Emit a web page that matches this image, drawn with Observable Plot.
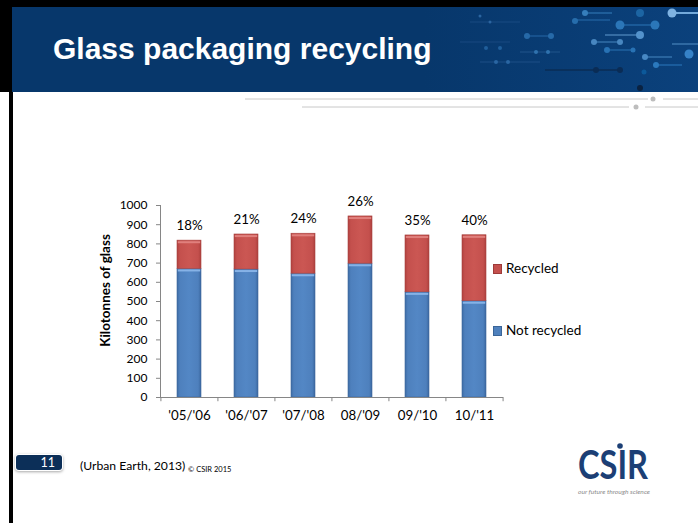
<!DOCTYPE html>
<html>
<head>
<meta charset="utf-8">
<script src="https://cdn.jsdelivr.net/npm/d3@7"></script>
<script src="https://cdn.jsdelivr.net/npm/@observablehq/plot@0.6"></script>
<style>
  html, body { margin: 0; padding: 0; background: #fff; }
  #slide { position: relative; width: 698px; height: 523px; overflow: hidden; background: #fff; font-family: Lato, "Open Sans", sans-serif; }
  #deco { position: absolute; left: 0; top: 0; }
  #title { position: absolute; left: 53px; top: 32px; font-family: "Liberation Sans", Arial, sans-serif; font-weight: bold; font-size: 30px; color: #fff; white-space: nowrap; }
  #chart { position: absolute; left: 0; top: 180px; }
  .leg { position: absolute; left: 493px; font-size: 13.5px; color: #000; white-space: nowrap; line-height: 1; }
  .leg i { display: inline-block; width: 7px; height: 8px; margin-right: 4px; vertical-align: -1px; }
  #pageno { position: absolute; left: 16px; top: 455px; width: 46px; height: 15px; background: #0c2f58; border-radius: 3px; box-shadow: 0 0 0 1px #fff, 0 1px 3px 1px rgba(0,0,0,0.35); color: #fff; font-size: 12.5px; line-height: 15px; text-align: right; box-sizing: border-box; padding-right: 7px; }
  #source { position: absolute; left: 80px; top: 458px; font-size: 12.2px; color: #000; white-space: nowrap; }
  #copy { position: absolute; left: 188px; top: 465px; font-size: 7.5px; color: #000; white-space: nowrap; }
</style>
</head>
<body>
<div id="slide">
  <svg width="0" height="0" style="position:absolute">
    <defs>
      <linearGradient id="gBlue" x1="0" x2="1" y1="0" y2="0">
        <stop offset="0" stop-color="#3d6ca5"/>
        <stop offset="0.12" stop-color="#4e80bd"/>
        <stop offset="0.5" stop-color="#5387c5"/>
        <stop offset="0.88" stop-color="#4e80bd"/>
        <stop offset="1" stop-color="#3b68a0"/>
      </linearGradient>
      <linearGradient id="gRed" x1="0" x2="1" y1="0" y2="0">
        <stop offset="0" stop-color="#b0413f"/>
        <stop offset="0.12" stop-color="#c4504d"/>
        <stop offset="0.5" stop-color="#cb5753"/>
        <stop offset="0.88" stop-color="#c4504d"/>
        <stop offset="1" stop-color="#ad403d"/>
      </linearGradient>
      <linearGradient id="gHead" x1="0" x2="1" y1="0" y2="0">
        <stop offset="0" stop-color="#07376b"/>
        <stop offset="0.6" stop-color="#07376b"/>
        <stop offset="1" stop-color="#0b417c"/>
      </linearGradient>
    </defs>
  </svg>
  <svg id="deco" width="698" height="523">
    <rect x="0" y="0" width="698" height="7" fill="#000"/>
    <rect x="0" y="0" width="12" height="92" fill="#000"/>
    <rect x="9" y="92" width="4" height="431" fill="#000"/>
    <rect x="12" y="7" width="686" height="85" fill="url(#gHead)"/>
    <g opacity="0.9">
      <line x1="585" y1="13" x2="612" y2="13" stroke="#3b86c4" stroke-width="1"/>
      <circle cx="585" cy="13" r="3" fill="#3b86c4"/>
      <circle cx="640" cy="13" r="4" fill="#1f6aa8"/>
      <line x1="672" y1="13" x2="698" y2="13" stroke="#7fb6e6" stroke-width="2"/>
      <circle cx="672" cy="13" r="4.5" fill="#8cc0ee"/>
      <line x1="575" y1="20" x2="610" y2="20" stroke="#2a73b3"/>
      <circle cx="575" cy="21" r="3" fill="#2a73b3"/>
      <line x1="620" y1="25" x2="655" y2="25" stroke="#2f7dc0"/>
      <circle cx="620" cy="25" r="4.5" fill="#2f7dc0"/>
      <circle cx="655" cy="25" r="4.5" fill="#2f7dc0"/>
      <line x1="527" y1="36" x2="550" y2="36" stroke="#2a6fae"/>
      <circle cx="527" cy="36" r="3" fill="#2a6fae"/>
      <circle cx="551" cy="36" r="3" fill="#2a6fae"/>
      <line x1="605" y1="35" x2="640" y2="35" stroke="#6aa6da"/>
      <circle cx="640" cy="35" r="4" fill="#5c9bd4"/>
      <line x1="594" y1="42" x2="620" y2="42" stroke="#4f8fc9"/>
      <circle cx="594" cy="42" r="3" fill="#4f8fc9"/>
      <circle cx="620" cy="42" r="3" fill="#4f8fc9"/>
      <line x1="672" y1="44" x2="698" y2="44" stroke="#5b9ad1"/>
      <line x1="607" y1="50" x2="632" y2="50" stroke="#2c78bb"/>
      <circle cx="607" cy="50" r="3" fill="#2c78bb"/>
      <circle cx="633" cy="50" r="2.5" fill="#2c78bb"/>
      <circle cx="689" cy="54" r="4.5" fill="#3b8ad0"/>
      <line x1="645" y1="57" x2="672" y2="57" stroke="#4f90cc"/>
      <circle cx="645" cy="57" r="3" fill="#4f90cc"/>
      <circle cx="656" cy="65" r="3" fill="#2f80c6"/>
      <line x1="656" y1="65" x2="682" y2="65" stroke="#2f80c6"/>
      <line x1="520" y1="52" x2="560" y2="52" stroke="#24588f"/>
      <circle cx="536" cy="52" r="2" fill="#3479b5"/>
      <circle cx="548" cy="52" r="2" fill="#3479b5"/>
      <line x1="545" y1="70" x2="620" y2="70" stroke="#0b2b52" stroke-width="1.5"/>
      <circle cx="596" cy="70" r="3" fill="#0b2b52"/>
      <circle cx="620" cy="70" r="3" fill="#0b2b52"/>
      <circle cx="644" cy="72" r="2.5" fill="#0d5c9e"/>
      <line x1="480" y1="62" x2="540" y2="62" stroke="#21528a"/>
      <circle cx="496" cy="62" r="2" fill="#2e6ba8"/>
      <circle cx="508" cy="62" r="2" fill="#2e6ba8"/>
      <line x1="470" y1="22" x2="520" y2="22" stroke="#1b4c84"/>
      <circle cx="480" cy="16" r="1.5" fill="#2f6aa6"/>
      <circle cx="490" cy="22" r="1.5" fill="#2f6aa6"/>
      <line x1="460" y1="42" x2="510" y2="42" stroke="#1a4a82"/>
      <circle cx="486" cy="48" r="2" fill="#23639f"/>
      <circle cx="500" cy="48" r="2" fill="#23639f"/>
      <circle cx="640" cy="88" r="3" fill="#0a1f3c"/>
    </g>
    <line x1="245" y1="99" x2="648" y2="99" stroke="#c8c8c8" stroke-width="1"/>
    <circle cx="653" cy="99" r="2.5" fill="#bdbdbd"/>
    <line x1="663" y1="99" x2="698" y2="99" stroke="#c8c8c8" stroke-width="1"/>
    <line x1="302" y1="107" x2="629" y2="107" stroke="#c8c8c8" stroke-width="1"/>
    <circle cx="636" cy="107" r="2.5" fill="#bdbdbd"/>
    <line x1="645" y1="107" x2="698" y2="107" stroke="#c8c8c8" stroke-width="1"/>
    <text x="578" y="479" font-family="Lato, sans-serif" font-weight="bold" font-size="40" fill="#1c3f75" textLength="70" lengthAdjust="spacingAndGlyphs">CSIR</text>
    <circle cx="620" cy="446" r="2.8" fill="#1c3f75"/>
    <text x="578" y="494" font-family="Lato, sans-serif" font-style="italic" font-size="6" fill="#8a8a8a" textLength="72" lengthAdjust="spacingAndGlyphs">our future through science</text>
  </svg>
  <div id="title">Glass packaging recycling</div>
  <div id="chart"></div>
  <div class="leg" style="top:262px"><i style="background:#c4504d;border:1px solid #9e3b39"></i>Recycled</div>
  <div class="leg" style="top:324px"><i style="background:#4f81bd;border:1px solid #3a6598"></i>Not recycled</div>
  <div id="pageno">11</div>
  <div id="source">(Urban Earth, 2013)</div>
  <div id="copy">© CSIR 2015</div>
</div>
<script>
// ---- data ----
const years = ["'05/'06", "'06/'07", "'07/'08", "08/'09", "09/'10", "10/'11"];
const notRecycled = [670, 667, 645, 697, 548, 502];
const recycled = [147, 182, 208, 246, 296, 343];
const shareLabels = ["18%", "21%", "24%", "26%", "35%", "40%"];
const yTicks = [0, 100, 200, 300, 400, 500, 600, 700, 800, 900, 1000];

const table = years.map((year, i) => ({
  year,
  notRecycled: notRecycled[i],
  total: notRecycled[i] + recycled[i],
  label: shareLabels[i]
}));

const W = 698, ML = 160, MR = 195;
const step = (W - ML - MR) / years.length;
const axisGrey = "#868686";

const chart = Plot.plot({
  width: W,
  height: 260,
  marginLeft: ML,
  marginRight: MR,
  marginTop: 25,
  marginBottom: 43,
  style: { fontFamily: "Lato, sans-serif", fontSize: "12px", color: "#000", background: "transparent", overflow: "visible" },
  x: { domain: years, paddingInner: 0.58, paddingOuter: 0.29 },
  y: { domain: [0, 1000] },
  marks: [
    Plot.barY(table, { x: "year", y1: 0, y2: "notRecycled", fill: "url(#gBlue)", stroke: "#3c679c", strokeWidth: 0.6 }),
    Plot.barY(table, { x: "year", y1: "notRecycled", y2: "total", fill: "url(#gRed)", stroke: "#a7423f", strokeWidth: 0.6 }),
    Plot.tickY(table, { x: "year", y: "notRecycled", stroke: "#86b2e6", strokeWidth: 2, dy: 1.6, inset: 0.8 }),
    Plot.tickY(table, { x: "year", y: "total", stroke: "#e0807d", strokeWidth: 2, dy: 1.6, inset: 0.8 }),
    Plot.frame({ anchor: "left", stroke: axisGrey }),
    Plot.ruleY([0], { stroke: axisGrey }),
    Plot.ruleX(years, { x: d => d, y1: 0, y2: -22, dx: -step / 2, stroke: axisGrey }),
    Plot.ruleX(years.slice(-1), { x: d => d, y1: 0, y2: -22, dx: step / 2, stroke: axisGrey }),
    Plot.axisY({ ticks: yTicks, tickSize: 4, tickPadding: 9, stroke: axisGrey, fontSize: 12, label: null, tickFormat: d => String(d) }),
    Plot.axisX({ tickSize: 0, tickPadding: 13, fontSize: 13.3, label: null }),
    Plot.text(table, { x: "year", y: "total", text: "label", dy: -15, fontSize: 13.3 }),
    Plot.text(["Kilotonnes of glass"], { frameAnchor: "left", textAnchor: "middle", dx: -55, dy: -11, rotate: -90, fontWeight: "bold", fontSize: 13.5 })
  ]
});
document.getElementById("chart").appendChild(chart);
</script>
</body>
</html>
